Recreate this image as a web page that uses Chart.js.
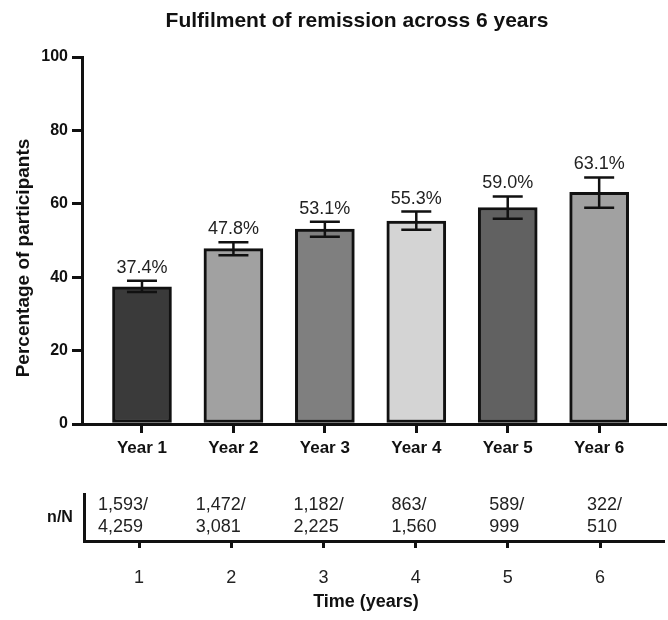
<!DOCTYPE html>
<html><head><meta charset="utf-8">
<script src="https://cdn.jsdelivr.net/npm/chart.js@4.4.1/dist/chart.umd.min.js"></script>
<style>
html,body{margin:0;padding:0;background:#fff;}
#wrap{position:relative;width:668px;height:620px;background:#fff;}
.box{position:absolute;left:0;width:668px;}
</style>
</head><body>
<div id="wrap">
  <div class="box" style="top:0;height:480px"><canvas id="c1" width="668" height="480"></canvas></div>
  <div class="box" style="top:480px;height:140px"><canvas id="c2" width="668" height="140"></canvas></div>
</div>
<script>
// ---- data ----
const categories = ['Year 1', 'Year 2', 'Year 3', 'Year 4', 'Year 5', 'Year 6'];
const yearNumbers = [1, 2, 3, 4, 5, 6];
const remissionPct = [37.4, 47.8, 53.1, 55.3, 59.0, 63.1];
const ciLower = [36.0, 46.0, 51.0, 52.9, 55.9, 58.9];
const ciUpper = [39.0, 49.5, 55.1, 57.9, 62.0, 67.2];
const nRemission = ['1,593/', '1,472/', '1,182/', '863/', '589/', '322/'];
const nTotal = ['4,259', '3,081', '2,225', '1,560', '999', '510'];
const yTicks = [0, 20, 40, 60, 80, 100];
const timeTicks = ['1', '2', '3', '4', '5', '6'];
const barColors = ['#3a3a3a', '#a1a1a1', '#7f7f7f', '#d4d4d4', '#616161', '#a1a1a1'];

const FAM = '"Liberation Sans", Arial, sans-serif';
const INK = '#111';
Chart.defaults.font.family = FAM;
Chart.defaults.color = INK;

const errorBars = {
  id: 'errorBars',
  afterDatasetsDraw(chart) {
    const { ctx, scales: { x, y } } = chart;
    ctx.save();
    ctx.strokeStyle = INK;
    ctx.lineWidth = 2.5;
    ctx.fillStyle = '#222';
    ctx.font = '18px ' + FAM;
    ctx.textAlign = 'center';
    ctx.textBaseline = 'alphabetic';
    yearNumbers.forEach((v, i) => {
      const px = x.getPixelForValue(v);
      const yl = y.getPixelForValue(ciLower[i]);
      const yu = y.getPixelForValue(ciUpper[i]);
      ctx.beginPath();
      ctx.moveTo(px, yl); ctx.lineTo(px, yu);
      ctx.moveTo(px - 15, yu); ctx.lineTo(px + 15, yu);
      ctx.moveTo(px - 15, yl); ctx.lineTo(px + 15, yl);
      ctx.stroke();
      ctx.fillText(remissionPct[i].toFixed(1) + '%', px, yu - 8);
    });
    ctx.restore();
  }
};

const titles1 = {
  id: 'titles1',
  afterDraw(chart) {
    const { ctx } = chart;
    ctx.save();
    ctx.fillStyle = INK;
    ctx.textAlign = 'center';
    ctx.textBaseline = 'alphabetic';
    ctx.font = 'bold 21px ' + FAM;
    ctx.fillText('Fulfilment of remission across 6 years', 357, 27);
    ctx.translate(29, 258);
    ctx.rotate(-Math.PI / 2);
    ctx.font = 'bold 19px ' + FAM;
    ctx.fillText('Percentage of participants', 0, 0);
    ctx.restore();
  }
};

new Chart(document.getElementById('c1'), {
  type: 'bar',
  data: {
    datasets: [{
      data: yearNumbers.map((v, i) => ({ x: v, y: remissionPct[i] })),
      backgroundColor: barColors,
      borderColor: INK,
      borderWidth: 3,
      borderSkipped: false,
      barThickness: 59
    }]
  },
  options: {
    responsive: false,
    animation: false,
    devicePixelRatio: 1,
    layout: { padding: { top: 57, right: 3, left: 0, bottom: 0 } },
    plugins: { legend: { display: false }, tooltip: { enabled: false } },
    scales: {
      x: {
        type: 'linear', min: 0.344, max: 6.72, offset: false,
        afterBuildTicks: s => { s.ticks = yearNumbers.map(v => ({ value: v })); },
        ticks: {
          callback: (v, i) => categories[i],
          font: { size: 17, weight: 'bold' }, color: INK, padding: 5,
          maxRotation: 0, autoSkip: false
        },
        grid: { display: true, offset: false, drawOnChartArea: false, drawTicks: true, tickLength: 9, lineWidth: 3, color: INK },
        border: { display: true, width: 3, color: INK },
        afterFit: s => { s.height = 56; }
      },
      y: {
        min: 0, max: 100,
        afterBuildTicks: s => { s.ticks = yTicks.map(v => ({ value: v })); },
        ticks: { font: { size: 16, weight: 'bold' }, color: INK, padding: 4 },
        grid: { display: true, drawOnChartArea: false, drawTicks: true, tickLength: 10, lineWidth: 3, color: INK },
        border: { display: true, width: 3, color: INK },
        afterFit: s => { s.width = 82; }
      }
    }
  },
  plugins: [errorBars, titles1]
});

const tablePlugin = {
  id: 'tablePlugin',
  afterDraw(chart) {
    const { ctx } = chart;
    const xt = chart.scales.xt;
    ctx.save();
    ctx.fillStyle = '#222';
    ctx.textBaseline = 'alphabetic';
    ctx.textAlign = 'left';
    ctx.font = '18px ' + FAM;
    yearNumbers.forEach((v, i) => {
      const px = xt.getPixelForValue(v);
      ctx.fillText(nRemission[i], px, 30);
      ctx.fillText(nTotal[i], px, 52);
    });
    ctx.fillStyle = INK;
    ctx.textAlign = 'center';
    ctx.font = 'bold 16px ' + FAM;
    ctx.fillText('n/N', 60, 42);
    ctx.font = 'bold 18px ' + FAM;
    ctx.fillText('Time (years)', 366, 127);
    ctx.restore();
  }
};

new Chart(document.getElementById('c2'), {
  type: 'scatter',
  data: { datasets: [{ data: [], pointRadius: 0 }] },
  options: {
    responsive: false,
    animation: false,
    devicePixelRatio: 1,
    layout: { padding: { top: 14, right: 5, left: 0, bottom: 0 } },
    plugins: { legend: { display: false }, tooltip: { enabled: false } },
    scales: {
      x: {
        type: 'linear', min: 0.403, max: 6.683,
        afterBuildTicks: s => { s.ticks = yearNumbers.map(v => ({ value: v })); },
        ticks: { callback: (v, i) => timeTicks[i], font: { size: 18 }, color: '#222', padding: 19, maxRotation: 0, autoSkip: false },
        grid: { display: true, drawOnChartArea: false, drawTicks: true, tickLength: 7, lineWidth: 3, color: INK },
        border: { display: true, width: 3, color: INK },
        afterFit: s => { s.height = 79; }
      },
      xt: { type: 'linear', axis: 'x', display: false, min: 0.857, max: 6.777 },
      y: {
        min: 0, max: 1,
        ticks: { display: false },
        grid: { display: false },
        border: { display: true, width: 3, color: INK },
        afterFit: s => { s.width = 84; }
      }
    }
  },
  plugins: [tablePlugin]
});
</script>
</body></html>
